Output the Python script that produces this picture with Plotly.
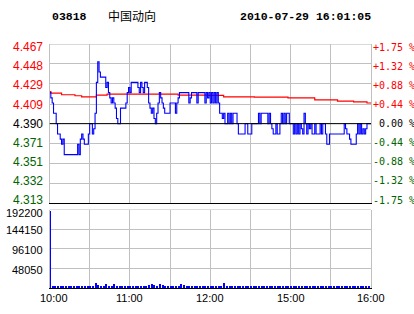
import plotly.graph_objects as go

W, H = 414, 314

# ---------------- data ----------------
stock_code = "03818"
stock_name = "中国动向"
timestamp = "2010-07-29 16:01:05"
prev_close = 4.390

# minute index from 10:00 (0) to 16:00 (240); lunch break collapsed
price_t = [0, 1, 2, 3, 5, 6, 8, 9, 10, 11, 21, 22, 23, 24, 25, 26, 29, 30, 32, 33, 34, 35, 36, 37, 38,
           42, 43, 44, 45, 46, 47, 48, 49, 50, 51, 53, 57, 58, 59, 60, 61, 66, 67, 68, 69, 70, 71, 72, 73,
           74, 75, 76, 77, 78, 79, 80, 81, 82, 83, 84, 85, 86, 90, 94, 95, 96, 97, 104, 105, 106, 110, 111,
           116, 117, 118, 119, 120, 121, 122, 123, 124, 125, 126, 127, 129, 130, 131, 133, 134, 135, 136,
           137, 140, 141, 146, 148, 151, 156, 157, 158, 163, 164, 165, 166, 167, 169, 170, 172, 173, 174,
           175, 176, 177, 178, 179, 182, 183, 184, 185, 186, 187, 188, 189, 190, 191, 192, 193, 194, 195,
           196, 197, 198, 199, 202, 203, 204, 206, 207, 209, 220, 221, 222, 224, 225, 229, 230, 231, 232,
           233, 234, 235, 236, 237, 240]
price_v = [4.42, 4.415, 4.41, 4.40, 4.39, 4.38, 4.375, 4.37, 4.375, 4.36, 4.37, 4.36, 4.375, 4.38, 4.375,
           4.37, 4.38, 4.39, 4.38, 4.385, 4.40, 4.43, 4.45, 4.44, 4.435,
           4.425, 4.43, 4.42, 4.415, 4.41, 4.415, 4.41, 4.405, 4.395, 4.39, 4.405, 4.41, 4.42, 4.425, 4.42,
           4.43, 4.425, 4.42, 4.43, 4.425, 4.42, 4.43, 4.43, 4.425,
           4.41, 4.405, 4.40, 4.405, 4.395, 4.39, 4.40, 4.41, 4.42, 4.415, 4.41, 4.405, 4.40, 4.41, 4.40,
           4.41, 4.415, 4.42, 4.41, 4.415, 4.42, 4.41, 4.42,
           4.41, 4.42, 4.415, 4.42, 4.41, 4.42, 4.41, 4.42, 4.41, 4.42, 4.41, 4.40, 4.395, 4.40, 4.39,
           4.40, 4.39, 4.40, 4.39,
           4.40, 4.39, 4.38, 4.39, 4.38, 4.39, 4.40, 4.39, 4.40, 4.39, 4.40, 4.39, 4.385, 4.38, 4.39,
           4.38, 4.39, 4.40, 4.39,
           4.40, 4.39, 4.40, 4.40, 4.39, 4.38, 4.39, 4.38, 4.39, 4.38, 4.39, 4.385, 4.38, 4.40, 4.39,
           4.38, 4.39, 4.385, 4.39,
           4.38, 4.38, 4.39, 4.38, 4.39, 4.38, 4.39, 4.38, 4.37, 4.38, 4.39, 4.385, 4.38, 4.375, 4.37,
           4.38, 4.39, 4.38, 4.39,
           4.38, 4.385, 4.38, 4.385, 4.39, 4.39]

avg_t = [0, 1, 9, 19, 24, 35, 43, 60, 96, 118, 130, 153, 178, 198, 215, 227, 237, 240]
avg_v = [4.421, 4.4195, 4.418, 4.417, 4.416, 4.4176, 4.4185, 4.4185, 4.4176, 4.4173, 4.416, 4.4157,
         4.415, 4.413, 4.4118, 4.411, 4.410, 4.410]

vol_t = [0, 2, 4, 6, 8, 10, 12, 14, 16, 18, 20, 22, 24, 26, 28, 30, 32, 34, 36, 38, 40, 42, 44, 46, 48,
         50, 52, 54, 56, 58, 60, 62, 64, 66, 68, 70, 72, 74, 76, 78, 80, 82, 84, 86, 88, 90, 92, 94, 96,
         98, 100, 102, 104, 106, 108, 110, 112, 114, 116, 118, 120, 122, 124, 126, 128, 130, 132, 134,
         136, 138, 140, 142, 144, 146, 148, 150, 152, 154, 156, 158, 160, 162, 164, 166, 168, 170, 172,
         174, 176, 178, 180, 182, 184, 186, 188, 190, 192, 194, 196, 198, 200, 202, 204, 206, 208, 210,
         212, 214, 216, 218, 220, 222, 224, 226, 228, 230, 232, 234, 236, 238]
vol_v = [190000, 6500, 6500, 6500, 6500, 6500, 6500, 6500, 6500, 6500, 6500, 6500, 6500, 6500, 6500,
         6500, 6500, 13500, 9500, 8000, 7500, 11000, 7500, 7500, 11000,
         7000, 6500, 6500, 6500, 6500, 6500, 6500, 7000, 6500, 7500, 6500, 6500, 8500, 11000, 8500, 8000,
         11000, 10500, 8000, 6500, 6500, 6500, 6500, 7500,
         11000, 8500, 6500, 7000, 6500, 7000, 6500, 6500, 6500, 6500, 7000, 6500, 7500, 6500, 7000, 6500,
         15000, 6500, 6500,
         6500, 6500, 6500, 6500, 6500, 6500, 6500, 6500, 6500, 6500, 6500, 6500, 6500, 6500, 6500, 6500,
         6500, 6500, 6500,
         6500, 6500, 6500, 6500, 6500, 6500, 6500, 7500, 6500, 6500, 6500, 6500, 6500, 6500, 6500, 6500,
         7500, 6500, 6500,
         6500, 6500, 6500, 6500, 7500, 6500, 6500, 6500, 6500, 6500, 7000, 6500, 6500, 7500, 8500]

price_ticks = [4.467, 4.448, 4.429, 4.409, 4.390, 4.371, 4.351, 4.332, 4.313]
price_labels = ["4.467", "4.448", "4.429", "4.409", "4.390", "4.371", "4.351", "4.332", "4.313"]
pct_labels = ["+1.75 %", "+1.32 %", "+0.88 %", "+0.44 %", "\u00a00.00 %", "-0.44 %", "-0.88 %",
              "-1.32 %", "-1.75 %"]
label_colors = ["#ff0000"] * 4 + ["#000000"] + ["#006400"] * 4
vol_ticks = [48050, 96100, 144150, 192200]
vol_labels = ["48050", "96100", "144150", "192200"]
time_ticks = [0, 60, 120, 180, 240]
time_labels = ["10:00", "11:00", "12:00", "15:00", "16:00"]
grid_minutes = [0, 30, 60, 90, 120, 150, 180, 210, 240]

# ---------------- layout helpers ----------------
def px(x):
    return x / W

def py(y):
    return 1 - y / H

X0, X1 = 49.5, 371.0
P_TOP, P_BOT = 44.3, 203.0
V_TOP, V_BOT = 209.5, 288.3
GRID = "#c0c0c0"

fig = go.Figure()
fig.add_trace(go.Scatter(x=avg_t, y=avg_v, mode="lines", line=dict(color="#ff0000", width=1.2, shape="hv"),
                         xaxis="x", yaxis="y", hoverinfo="skip"))
fig.add_trace(go.Scatter(x=price_t, y=price_v, mode="lines", line=dict(color="#0000ff", width=1.1, shape="hv"),
                         xaxis="x", yaxis="y", hoverinfo="skip"))
fig.add_trace(go.Bar(x=vol_t, y=vol_v, width=1.5, marker=dict(color="#0000ff", line=dict(width=0)),
                     xaxis="x2", yaxis="y2", hoverinfo="skip"))

lo = prev_close * (1 - 0.0175)
hi = prev_close * (1 + 0.0175)

axis_common = dict(showticklabels=False, ticks="", zeroline=False, showgrid=True, gridcolor=GRID, gridwidth=1)

fig.update_layout(
    width=W, height=H, autosize=False,
    margin=dict(l=0, r=0, t=0, b=0),
    paper_bgcolor="white", plot_bgcolor="white",
    showlegend=False, bargap=0,
    xaxis=dict(domain=[px(X0), px(X1)], range=[0, 240], tickmode="array", tickvals=grid_minutes,
               anchor="y", showline=True, linecolor="black", linewidth=1, **axis_common),
    yaxis=dict(domain=[py(P_BOT), py(P_TOP)], range=[lo, hi], tickmode="array", tickvals=price_ticks,
               anchor="x", showline=True, mirror=True, linecolor=GRID, linewidth=1, **axis_common),
    xaxis2=dict(domain=[px(X0), px(X1)], range=[0, 240], tickmode="array", tickvals=grid_minutes,
                anchor="y2", showline=True, linecolor="black", linewidth=1, **axis_common),
    yaxis2=dict(domain=[py(V_BOT), py(V_TOP)], range=[0, 192200], tickmode="array", tickvals=vol_ticks,
                anchor="x2", showline=True, mirror=True, linecolor=GRID, linewidth=1, **axis_common),
)

# previous-close reference line and top borders
fig.add_shape(type="line", xref="x", yref="y", x0=0, x1=240, y0=prev_close, y1=prev_close,
              line=dict(color="black", width=1))
fig.add_shape(type="line", xref="x", yref="y", x0=0, x1=240, y0=hi, y1=hi,
              line=dict(color=GRID, width=1))
fig.add_shape(type="line", xref="x2", yref="y2", x0=0, x1=240, y0=192200, y1=192200,
              line=dict(color=GRID, width=1))

ann = []
# price & percent labels
lab_top, lab_bot = 47.3, 200.0
n = len(price_labels)
for i in range(n):
    ypx = lab_top + (lab_bot - lab_top) * i / (n - 1)
    ann.append(dict(x=px(44.5), y=py(ypx), xref="paper", yref="paper", text=price_labels[i],
                    showarrow=False, xanchor="right", yanchor="middle",
                    font=dict(family="Liberation Sans, Arial", size=12, color=label_colors[i])))
    ann.append(dict(x=px(370.5), y=py(ypx), xref="paper", yref="paper", text=pct_labels[i],
                    showarrow=False, xanchor="left", yanchor="middle",
                    font=dict(family="DejaVu Sans Mono", size=10, color=label_colors[i])))

# volume labels
vol_label_y = [269.5, 249.7, 229.7, 213.0]
for t, ypx in zip(vol_labels, vol_label_y):
    ann.append(dict(x=px(44.5), y=py(ypx), xref="paper", yref="paper", text=t, showarrow=False,
                    xanchor="right", yanchor="middle",
                    font=dict(family="Liberation Sans, Arial", size=11, color="black")))

# time labels
for i, (tv, tl) in enumerate(zip(time_ticks, time_labels)):
    ann.append(dict(x=tv, y=py(298), xref="x2", yref="paper", text=tl, showarrow=False,
                    xanchor="center", yanchor="middle", xshift=4 if i == 0 else 0,
                    font=dict(family="Liberation Sans, Arial", size=11, color="black")))

# header
ann.append(dict(x=px(49.5), y=py(16.5), xref="paper", yref="paper", text="<b>%s</b>" % stock_code,
                showarrow=False, xanchor="left", yanchor="middle",
                font=dict(family="Liberation Mono", size=11.5, color="black")))
ann.append(dict(x=px(105.5), y=py(15.5), xref="paper", yref="paper", text=stock_name,
                showarrow=False, xanchor="left", yanchor="middle",
                font=dict(family="Noto Sans CJK SC", size=12, color="black")))
ann.append(dict(x=px(237.5), y=py(16.5), xref="paper", yref="paper", text="<b>%s</b>" % timestamp,
                showarrow=False, xanchor="left", yanchor="middle",
                font=dict(family="Liberation Mono", size=11.5, color="black")))

fig.update_layout(annotations=ann)

fig.write_html("out.html")
